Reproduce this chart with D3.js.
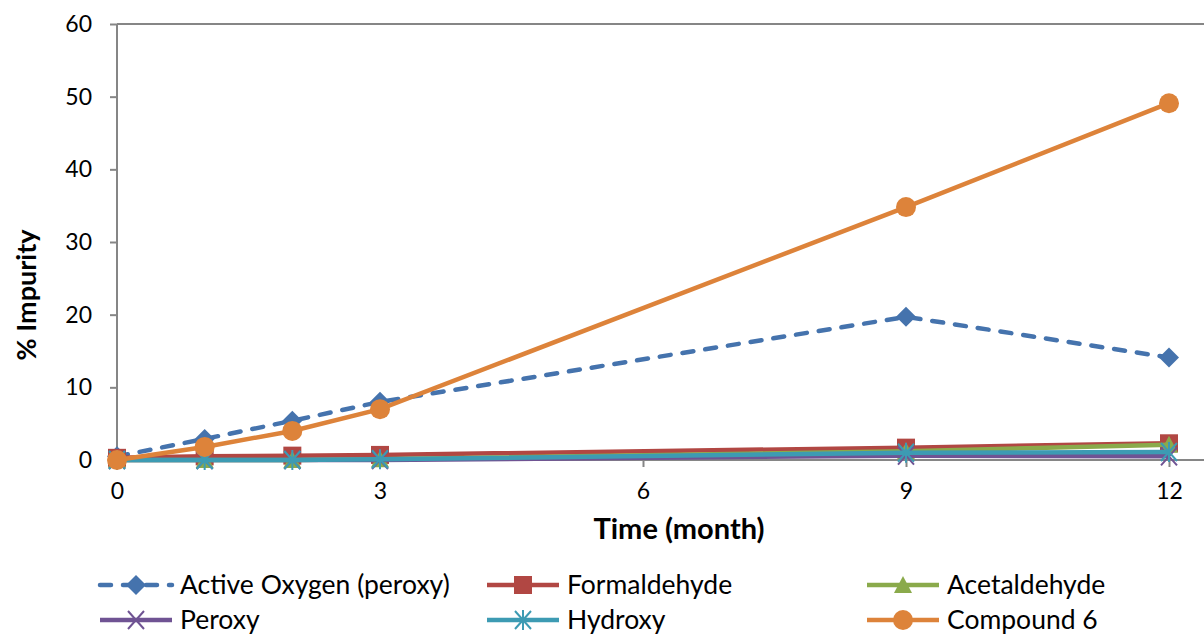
<!DOCTYPE html>
<html>
<head>
<meta charset="utf-8">
<script src="https://cdn.jsdelivr.net/npm/d3@7/dist/d3.min.js"></script>
<style>
  html, body { margin: 0; padding: 0; background: #fff; }
  svg { display: block; font-family: Lato, "Open Sans", sans-serif; }
</style>
</head>
<body>
<svg id="chart" width="1204" height="635"></svg>
<script>
// Sampling times (months)
const months = [0, 1, 2, 3, 9, 12];

// Impurity levels (%) per series
const activeOxygen = [0.5, 2.9, 5.4, 8.0, 19.7, 14.1];
const formaldehyde = [0.3, 0.5, 0.6, 0.7, 1.7, 2.3];
const acetaldehyde = [0.0, 0.0, 0.0, 0.1, 1.2, 2.1];
const peroxy       = [0.0, 0.0, 0.0, 0.0, 0.6, 0.5];
const hydroxy      = [0.0, 0.0, 0.0, 0.1, 1.0, 1.1];
const compound6    = [0.0, 1.8, 4.0, 7.0, 34.8, 49.1];

const xTicks = [0, 3, 6, 9, 12];
const yTicks = [0, 10, 20, 30, 40, 50, 60];

const series = [
  { name: "Active Oxygen (peroxy)", values: activeOxygen, color: "#4573AD", marker: "diamond", dashed: true },
  { name: "Formaldehyde", values: formaldehyde, color: "#B14743", marker: "square" },
  { name: "Acetaldehyde", values: acetaldehyde, color: "#8AAA4B", marker: "triangle" },
  { name: "Peroxy", values: peroxy, color: "#6F5393", marker: "x" },
  { name: "Hydroxy", values: hydroxy, color: "#3D9BB3", marker: "star" },
  { name: "Compound 6", values: compound6, color: "#DD833A", marker: "circle" }
];

const svg = d3.select("#chart");
const plotLeft = 117, plotRight = 1169, plotTop = 24, plotBottom = 460;

const x = d3.scaleLinear().domain([0, 12]).range([plotLeft, plotRight]);
const y = d3.scaleLinear().domain([0, 60]).range([plotBottom, plotTop]);

// Top border and axes
svg.append("line")
  .attr("x1", plotLeft).attr("x2", 1204).attr("y1", plotTop).attr("y2", plotTop)
  .attr("stroke", "#868686").attr("stroke-width", 2);

const yAxis = svg.append("g")
  .attr("transform", `translate(${plotLeft},0)`)
  .call(d3.axisLeft(y).tickValues(yTicks).tickSize(7).tickPadding(18));
const xAxis = svg.append("g")
  .attr("transform", `translate(0,${plotBottom})`)
  .call(d3.axisBottom(x).tickValues(xTicks).tickSize(7).tickPadding(16));

[yAxis, xAxis].forEach(g => {
  g.attr("font-size", 23).attr("font-family", "Lato, 'Open Sans', sans-serif");
  g.select(".domain").remove();
  g.selectAll(".tick line").attr("stroke", "#868686").attr("stroke-width", 2);
  g.selectAll(".tick text").attr("fill", "#000");
});
svg.append("line").attr("x1", plotLeft).attr("x2", plotLeft).attr("y1", plotTop).attr("y2", plotBottom)
  .attr("stroke", "#868686").attr("stroke-width", 2);
svg.append("line").attr("x1", plotLeft).attr("x2", 1204).attr("y1", plotBottom).attr("y2", plotBottom)
  .attr("stroke", "#868686").attr("stroke-width", 2);

// Axis titles
svg.append("text")
  .attr("x", 679).attr("y", 539).attr("text-anchor", "middle")
  .style("font-size", "29px").style("font-weight", "bold").text("Time (month)");
svg.append("text")
  .attr("transform", `translate(36,295) rotate(-90)`)
  .attr("text-anchor", "middle")
  .style("font-size", "27px").style("font-weight", "bold").text("% Impurity");

// Marker drawing
function drawMarker(g, type, color, cx, cy, scale = 1) {
  const s = scale;
  if (type === "diamond") {
    g.append("path").attr("d", `M${cx},${cy - 10 * s}L${cx + 10 * s},${cy}L${cx},${cy + 10 * s}L${cx - 10 * s},${cy}Z`)
      .attr("fill", color);
  } else if (type === "square") {
    g.append("rect").attr("x", cx - 9 * s).attr("y", cy - 9 * s).attr("width", 18 * s).attr("height", 18 * s)
      .attr("fill", color);
  } else if (type === "triangle") {
    g.append("path").attr("d", `M${cx},${cy - 9 * s}L${cx + 9 * s},${cy + 8 * s}L${cx - 9 * s},${cy + 8 * s}Z`)
      .attr("fill", color);
  } else if (type === "x") {
    g.append("path").attr("d", `M${cx - 8 * s},${cy - 9 * s}L${cx + 8 * s},${cy + 9 * s}M${cx + 8 * s},${cy - 9 * s}L${cx - 8 * s},${cy + 9 * s}`)
      .attr("stroke", color).attr("stroke-width", 2);
  } else if (type === "star") {
    g.append("path").attr("d", `M${cx - 8 * s},${cy - 9 * s}L${cx + 8 * s},${cy + 9 * s}M${cx + 8 * s},${cy - 9 * s}L${cx - 8 * s},${cy + 9 * s}M${cx},${cy - 10 * s}L${cx},${cy + 10 * s}`)
      .attr("stroke", color).attr("stroke-width", 2);
  } else if (type === "circle") {
    g.append("circle").attr("cx", cx).attr("cy", cy).attr("r", 10 * s).attr("fill", color);
  }
}

// Series lines with their markers
const line = d3.line().x((d, i) => x(months[i])).y(d => y(d));
const plot = svg.append("g");
series.forEach(s => {
  const g = plot.append("g");
  g.append("path").datum(s.values)
    .attr("d", line).attr("fill", "none")
    .attr("stroke", s.color).attr("stroke-width", 4.5)
    .attr("stroke-linecap", s.dashed ? "round" : "butt")
    .attr("stroke-dasharray", s.dashed ? "11,12" : null);
  s.values.forEach((v, i) => drawMarker(g, s.marker, s.color, x(months[i]), y(v)));
});

// Legend
const legendCols = [100, 487, 867];
const legendRows = [585, 620];
series.forEach((s, i) => {
  const lx = legendCols[i % 3], ly = legendRows[Math.floor(i / 3)];
  const g = svg.append("g");
  g.append("line").attr("x1", lx).attr("x2", lx + 72).attr("y1", ly).attr("y2", ly)
    .attr("stroke", s.color).attr("stroke-width", 4.5)
    .attr("stroke-linecap", s.dashed ? "round" : "butt")
    .attr("stroke-dasharray", s.dashed ? "11,12" : null);
  drawMarker(g, s.marker, s.color, lx + 36, ly);
  g.append("text").attr("x", lx + 80).attr("y", ly + 9)
    .style("font-size", "26.5px").text(s.name);
});
</script>
</body>
</html>
